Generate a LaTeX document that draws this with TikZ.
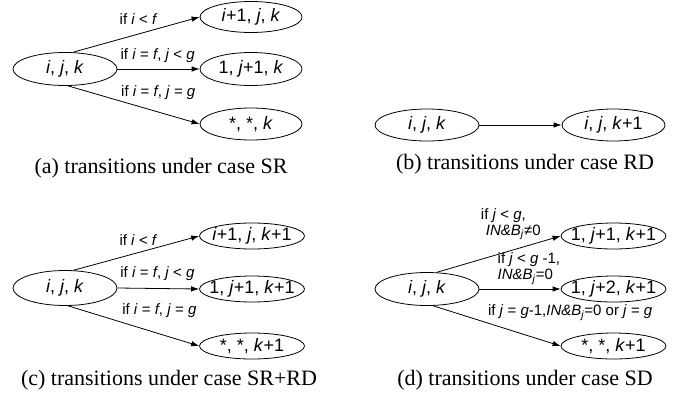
\documentclass[tikz,border=0pt]{standalone}
\usepackage{fontspec}
\setmainfont{Liberation Serif}
\setsansfont{Liberation Sans}
\usetikzlibrary{arrows.meta,shapes.geometric}
\usetikzlibrary{positioning}
\tikzset{ell/.style={draw,ellipse,minimum width=104pt,minimum height=33pt,inner xsep=-14pt,inner ysep=-6pt,font=\sffamily\fontsize{18}{20}\selectfont},
  flat/.style={minimum width=105pt,minimum height=26pt},
  lab/.style={inner sep=1pt,font=\sffamily\fontsize{15}{16}\selectfont},
  capt/.style={anchor=base,inner sep=0pt,font=\fontsize{22}{24}\selectfont}}
\newcommand{\mv}[1]{\textit{#1}}

\begin{document}
\begin{tikzpicture}[x=1pt,y=-1pt,>={Latex[length=8pt,width=5.5pt]},line width=0.8pt,line join=round]
\useasboundingbox (0,0) rectangle (684,400);
% --- (a) case SR
\begin{scope}
\node[ell] (a0) at (65,69) {\mv{i}, \mv{j}, \mv{k}};
\node[ell,minimum width=102pt,minimum height=31pt] (a1) at (251,17) {\mv{i}+1, \mv{j}, \mv{k}};
\node[ell,minimum width=102pt] (a2) at (251,69) {1, \mv{j}+1, \mv{k}};
\node[ell,minimum width=102pt,minimum height=32pt] (a3) at (251,124) {*, *, \mv{k}};
\draw[->] (a0.65) -- (a1.west) node[lab,pos=0.68,anchor=south east,yshift=2pt] {if \mv{i} < \mv{f}};
\draw[->] (a0.east) -- (a2.west) node[lab,pos=0.49,anchor=south,yshift=5pt] {if \mv{i} = \mv{f}, \mv{j} < \mv{g}};
\draw[->] (a0.-80) -- (a3.west) node[lab,pos=0.394,anchor=south west] {if \mv{i} = \mv{f}, \mv{j} = \mv{g}};
\node[capt] (capa) at (161,173) {(a) transitions under case SR};
\end{scope}
% --- (b) case RD
\begin{scope}
\node[ell,minimum height=32pt] (b0) at (427,125) {\mv{i}, \mv{j}, \mv{k}};
\node[ell,minimum width=103pt,minimum height=32pt] (b1) at (613.5,125) {\mv{i}, \mv{j}, \mv{k}+1};
\draw[->] (b0.east) -- (b1.west);
\node[capt] (capb) at (525,169) {(b) transitions under case RD};
\end{scope}
% --- (c) case SR+RD
\begin{scope}
\node[ell,minimum height=35pt] (c0) at (65,288) {\mv{i}, \mv{j}, \mv{k}};
\node[ell,flat] (c1) at (252,236) {\mv{i}+1, \mv{j}, \mv{k}+1};
\node[ell,flat] (c2) at (252,289) {1, \mv{j}+1, \mv{k}+1};
\node[ell,flat] (c3) at (252,346) {*, *, \mv{k}+1};
\draw[->] (c0.65) -- (c1.west) node[lab,pos=0.68,anchor=south east] {if \mv{i} < \mv{f}};
\draw[->] (c0.east) -- (c2.west) node[lab,pos=0.49,anchor=south,yshift=6pt] {if \mv{i} = \mv{f}, \mv{j} < \mv{g}};
\draw[->] (c0.-80) -- (c3.west) node[lab,pos=0.403,anchor=south west,yshift=3pt] {if \mv{i} = \mv{f}, \mv{j} = \mv{g}};
\node[capt] (capc) at (169,385) {(c) transitions under case SR+RD};
\end{scope}
% --- (d) case SD
\begin{scope}
\node[ell] (d0) at (427,289) {\mv{i}, \mv{j}, \mv{k}};
\node[ell,flat] (d1) at (613.5,236) {1, \mv{j}+1, \mv{k}+1};
\node[ell,flat] (d2) at (613.5,289) {1, \mv{j}+2, \mv{k}+1};
\node[ell,flat] (d3) at (613.5,346) {*, *, \mv{k}+1};
\draw[->] (d0.60) -- (d1.west) node[lab,pos=0.85,anchor=south east,align=left] {if \mv{j} < \mv{g},\\\hspace*{5pt}\mv{IN\&B}\textsubscript{\mv{j}}≠0};
\draw[->] (d0.east) -- (d2.west) node[lab,pos=0.61,anchor=south,yshift=3pt,align=left] {if \mv{j} < \mv{g} -1,\\\mv{IN\&B}\textsubscript{\mv{j}}=0};
\draw[->] (d0.-70) -- (d3.west) node[lab,pos=0.42,anchor=south west,yshift=1pt] {if \mv{j} = \mv{g}-1,\mv{IN\&B}\textsubscript{\mv{j}}=0 or \mv{j} = \mv{g}};
\node[capt] (capd) at (525,385) {(d) transitions under case SD};
\end{scope}
\end{tikzpicture}
\end{document}
